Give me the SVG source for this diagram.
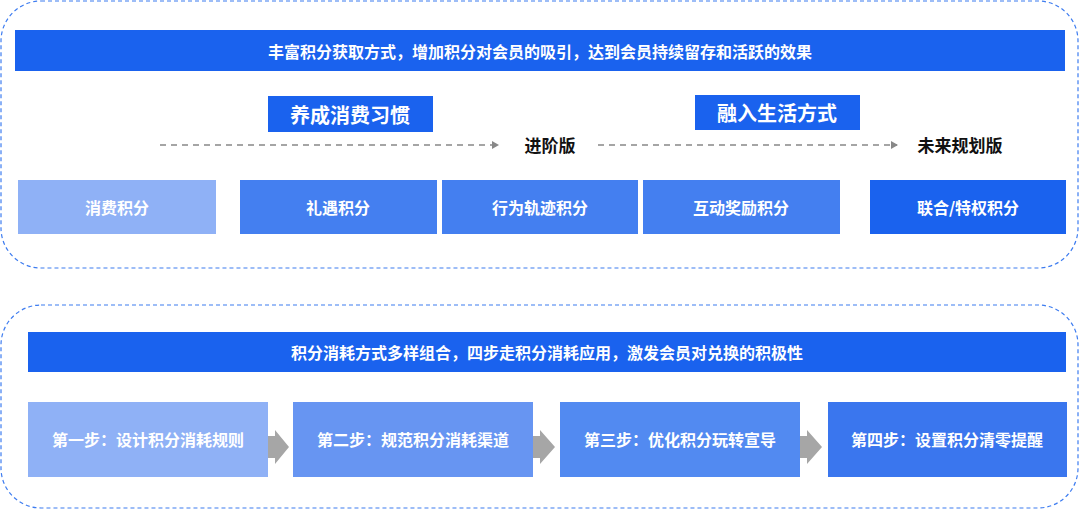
<svg xmlns="http://www.w3.org/2000/svg" width="1080" height="510" viewBox="0 0 1080 510">
<style>
text{font-family:"Noto Sans CJK SC","Noto Sans",sans-serif;font-weight:bold;text-anchor:middle;dominant-baseline:central}
.w{fill:#fff}
.frame{fill:none;stroke:#3d7cf0;stroke-width:1.2;stroke-dasharray:4 3}
.dash{stroke:#888;stroke-width:1.5;stroke-dasharray:6 5;fill:none}
.ga{fill:#a6a6a6}
</style>
<defs><marker id="ah" markerWidth="8" markerHeight="8" refX="6" refY="4" orient="auto" markerUnits="userSpaceOnUse"><path d="M0,0 L7,4 L0,8 Z" fill="#888"/></marker></defs>
<rect class="frame" x="1" y="1" width="1077" height="267" rx="40"/>
<rect class="frame" x="1" y="305" width="1077" height="203" rx="40"/>
<g id="banner1"><rect x="15" y="30" width="1050" height="41" fill="#1a62ee"/><text class="w" x="540" y="51" font-size="16">丰富积分获取方式，增加积分对会员的吸引，达到会员持续留存和活跃的效果</text></g>
<g id="tag1"><rect x="268" y="96" width="165" height="36" fill="#1a62ee"/><text class="w" x="350" y="114" font-size="20">养成消费习惯</text></g>
<g id="tag2"><rect x="695" y="95" width="165" height="35" fill="#1a62ee"/><text class="w" x="777" y="112" font-size="20">融入生活方式</text></g>
<g id="stage1"><text x="550" y="144" font-size="17" fill="#111">进阶版</text></g>
<g id="stage2"><text x="960" y="144" font-size="17" fill="#111">未来规划版</text></g>
<g id="connectors">
<line class="dash" x1="160" y1="145" x2="498" y2="145" marker-end="url(#ah)"/>
<line class="dash" x1="598" y1="145" x2="897" y2="145" marker-end="url(#ah)"/>
<polygon class="ga" points="259,436 275,436 275,430 289,447 275,464 275,458 259,458"/>
<polygon class="ga" points="525,436 540,436 540,430 555,447 540,464 540,458 525,458"/>
<polygon class="ga" points="792,436 807,436 807,430 822,447 807,464 807,458 792,458"/>
</g>
<g id="n1"><rect x="18" y="180" width="198" height="54" fill="#8fb1f6"/><text class="w" x="117" y="207" font-size="16">消费积分</text></g>
<g id="n2"><rect x="240" y="180" width="197" height="54" fill="#447ff0"/><text class="w" x="338" y="207" font-size="16">礼遇积分</text></g>
<g id="n3"><rect x="442" y="180" width="196" height="54" fill="#447ff0"/><text class="w" x="540" y="207" font-size="16">行为轨迹积分</text></g>
<g id="n4"><rect x="643" y="180" width="197" height="54" fill="#447ff0"/><text class="w" x="741" y="207" font-size="16">互动奖励积分</text></g>
<g id="n5"><rect x="870" y="180" width="196" height="54" fill="#1a62ee"/><text class="w" x="968" y="207" font-size="16">联合/特权积分</text></g>
<g id="banner2"><rect x="28" y="332" width="1038" height="40" fill="#1a62ee"/><text class="w" x="547" y="352" font-size="16">积分消耗方式多样组合，四步走积分消耗应用，激发会员对兑换的积极性</text></g>
<g id="s1"><rect x="28" y="402" width="240" height="75" fill="#8fb1f6"/><text class="w" x="148" y="439" font-size="16">第一步：设计积分消耗规则</text></g>
<g id="s2"><rect x="293" y="402" width="240" height="75" fill="#6795f2"/><text class="w" x="413" y="439" font-size="16">第二步：规范积分消耗渠道</text></g>
<g id="s3"><rect x="560" y="402" width="240" height="75" fill="#528af1"/><text class="w" x="680" y="439" font-size="16">第三步：优化积分玩转宣导</text></g>
<g id="s4"><rect x="828" y="402" width="239" height="75" fill="#3a76ee"/><text class="w" x="947" y="439" font-size="16">第四步：设置积分清零提醒</text></g>
</svg>
